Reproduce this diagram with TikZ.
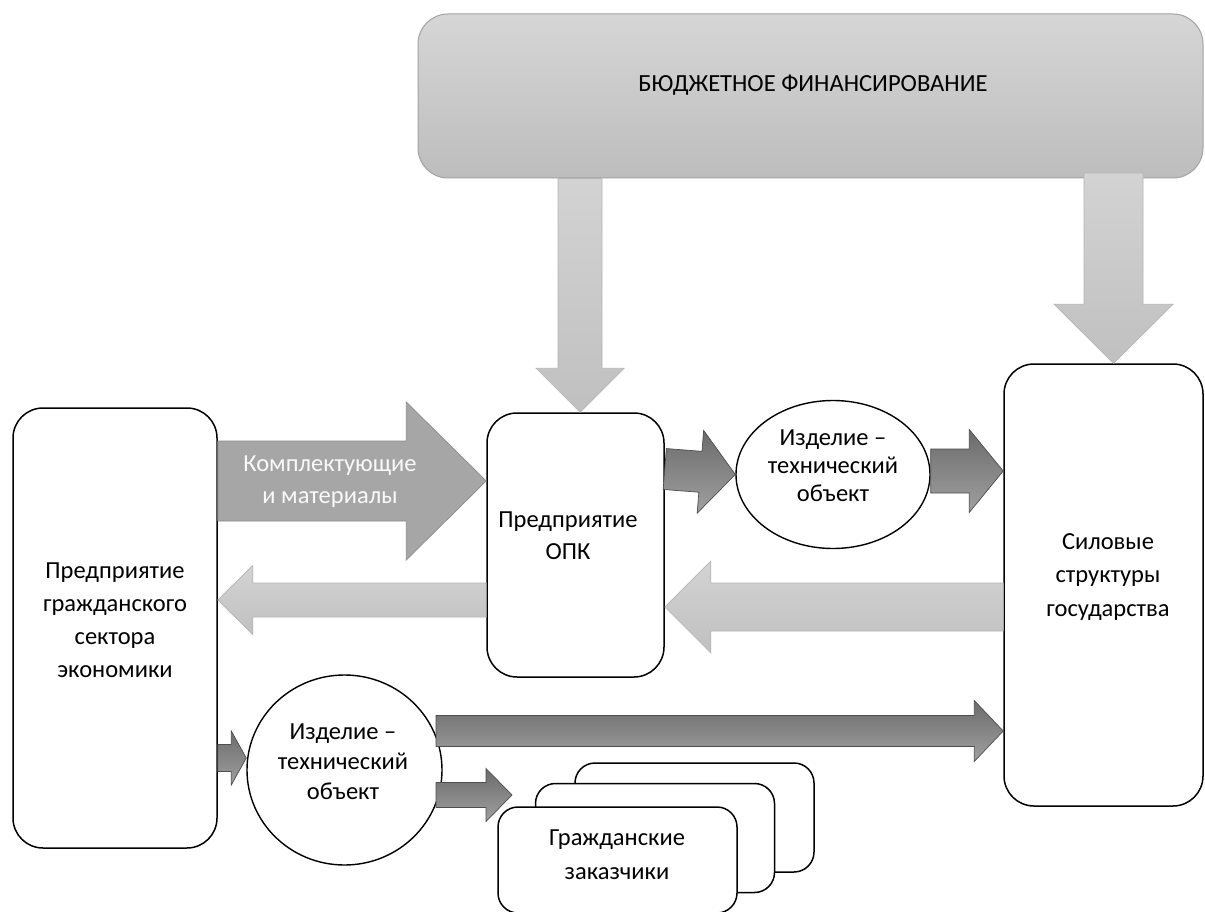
\documentclass[tikz,border=0pt]{standalone}
\usepackage{fontspec}
\setmainfont{Carlito}
\usetikzlibrary{shapes.geometric,calc}
\definecolor{darkA}{HTML}{6B6B6B}
\definecolor{darkB}{HTML}{A0A0A0}
\definecolor{darkE}{HTML}{4D4D4D}
\definecolor{midF}{HTML}{A6A6A6}
\definecolor{midE}{HTML}{8C8C8C}
\definecolor{lightA}{HTML}{D3D3D3}
\definecolor{lightB}{HTML}{C0C0C0}
\definecolor{lightE}{HTML}{B5B5B5}
\definecolor{budA}{HTML}{D6D6D6}
\definecolor{budB}{HTML}{BDBDBD}
\definecolor{budE}{HTML}{A3A3A3}
% #1 style, #2 start, #3 end (tip), #4 shaft half width, #5 head half width, #6 head length
\newcommand\fatarrow[6]{%
  \coordinate (fa-h) at ($(#3)!#6!(#2)$);
  \path[#1] ($(#2)!#4!90:(#3)$) -- ($(fa-h)!#4!90:(#3)$) -- ($(fa-h)!#5!90:(#3)$)
    -- (#3) -- ($(fa-h)!#5!-90:(#3)$) -- ($(fa-h)!#4!-90:(#3)$)
    -- ($(#2)!#4!-90:(#3)$) -- cycle;}
\tikzset{
  box/.style={draw=black, line width=1.5pt, rounded corners=30pt, fill=white, inner sep=0pt},
  gzbox/.style={draw=black, line width=1.5pt, rounded corners=20pt, fill=white, inner sep=0pt,
    minimum width=239pt, minimum height=109pt},
  oval/.style={ellipse, draw=black, line width=1.4pt, fill=white, inner sep=0pt},
  txt/.style={align=center, inner sep=0pt, text=black, font=\fontsize{24.5}{33}\selectfont},
  darkarrow/.style={draw=darkE, line width=0.7pt, top color=darkA, bottom color=darkB},
  midarrow/.style={draw=midE, line width=0.7pt, fill=midF},
  lightarrow/.style={draw=lightE, line width=0.7pt, top color=lightA, bottom color=lightB},
  budarrow/.style={draw=lightE, line width=0.7pt, top color=lightA, bottom color=lightB},
}
\begin{document}
\begin{tikzpicture}[x=1pt,y=-1pt]
\useasboundingbox[fill=white] (0,0) rectangle (1205,912);

% budget box
\node[draw=budE, line width=1pt, rounded corners=30pt, top color=budA, bottom color=budB,
      minimum width=785pt, minimum height=164pt, inner sep=0pt] (bud) at (810.5,96) {};
\node[txt, font=\fontsize{24.6}{28}\selectfont] (bud-t) at (813,85) {БЮДЖЕТНОЕ ФИНАНСИРОВАНИЕ};

% main boxes
\node[box, minimum width=204pt, minimum height=440pt] (civ) at (115,628) {};
\node[txt] (civ-t) at (115,620) {Предприятие\\гражданского\\сектора\\экономики};

\node[box, minimum width=177pt, minimum height=264pt] (opk) at (575.5,545) {};
\node[txt, font=\fontsize{24.5}{32}\selectfont] (opk-t) at (568,536) {Предприятие\\ОПК};

\node[box, minimum width=199pt, minimum height=442pt] (sil) at (1103.5,585) {};
\node[txt, font=\fontsize{24.5}{33.5}\selectfont] (sil-t) at (1108,577) {Силовые\\структуры\\государства};

% ellipses
\node[oval, minimum width=194pt, minimum height=148pt] (ell1) at (833,474.5) {};
\node[txt, font=\fontsize{24.5}{28}\selectfont] (ell1-t) at (833,466) {Изделие –\\технический\\объект};

\node[oval, minimum width=195pt, minimum height=190pt] (ell2) at (344.5,770) {};
\node[txt, font=\fontsize{24.5}{30}\selectfont] (ell2-t) at (343,762) {Изделие –\\технический\\объект};

% civilian customers stack
\node[gzbox] (gz3) at (694.5,817.5) {};
\node[gzbox] (gz2) at (655,838) {};
\node[gzbox, minimum height=106pt] (gz1) at (617.5,860) {};
\node[txt, font=\fontsize{24.5}{34}\selectfont] (gz-t) at (617,855) {Гражданские\\заказчики};

% connector end points
\coordinate (k-s) at (civ.east |- 0,481);
\coordinate (k-e) at (opk.west |- 0,481);
\coordinate (a1-s) at (opk.east |- 0,469);
\coordinate (a1-e) at (ell1.west);
\coordinate (a2-s) at (ell1.east |- 0,471);
\coordinate (a2-e) at (sil.west |- 0,471);
\coordinate (a3-s) at (opk.west |- 0,600);
\coordinate (a3-e) at (civ.east |- 0,600);
\coordinate (a4-s) at (sil.west |- 0,607);
\coordinate (a4-e) at (opk.east |- 0,607);
\coordinate (a5-s) at (civ.east |- 0,758);
\coordinate (a5-e) at (ell2.west |- 0,758);
\coordinate (a6-s) at (436,731);
\coordinate (a6-e) at (sil.west |- 0,731);
\coordinate (a7-s) at (436,795);
\coordinate (a7-e) at (512,795);
\coordinate (b1-s) at (bud.south -| 580,0);
\coordinate (b1-e) at (opk.north -| 580,0);
\coordinate (b2-s) at (1113.5,173);
\coordinate (b2-e) at (sil.north -| 1113.5,0);

% arrows
\fatarrow{midarrow}{k-s}{k-e}{40pt}{79pt}{80pt}
\node[txt, text=white!95!gray, font=\fontsize{24.5}{32}\selectfont] (k-t) at (330,482) {Комплектующие\\и материалы};

\fatarrow{darkarrow}{a1-s}{a1-e}{20.5pt}{41.5pt}{35pt}
\fatarrow{darkarrow}{a2-s}{a2-e}{22pt}{41.5pt}{34pt}
\fatarrow{lightarrow}{a3-s}{a3-e}{17pt}{34.5pt}{35pt}
\fatarrow{lightarrow}{a4-s}{a4-e}{24pt}{46pt}{46pt}
\fatarrow{darkarrow}{a5-s}{a5-e}{13.5pt}{27pt}{15pt}
\fatarrow{darkarrow}{a6-s}{a6-e}{15.5pt}{30.5pt}{29pt}
\fatarrow{darkarrow}{a7-s}{a7-e}{12.5pt}{26.5pt}{26pt}
\fatarrow{budarrow}{b1-s}{b1-e}{22pt}{44pt}{44pt}
\fatarrow{budarrow}{b2-s}{b2-e}{29.5pt}{59.5pt}{59pt}
\end{tikzpicture}
\end{document}
